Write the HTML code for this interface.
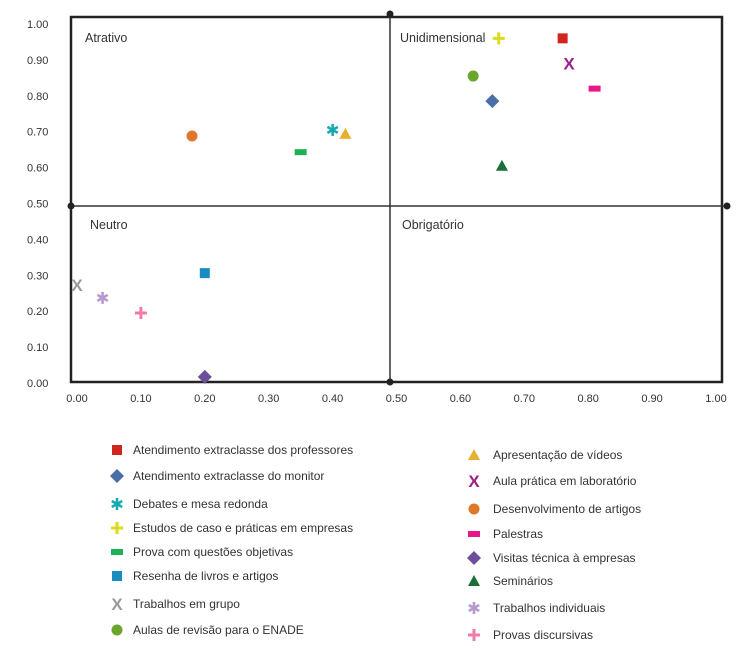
<!DOCTYPE html>
<html><head><meta charset="utf-8"><style>
body{margin:0;background:#fff;}
svg{display:block;font-family:"Liberation Sans",sans-serif;}
</style></head><body>
<svg id="chart" width="750" height="650"></svg>
<script>
const names=["Atendimento extraclasse dos professores","Atendimento extraclasse do monitor","Debates e mesa redonda","Estudos de caso e práticas em empresas","Prova com questões objetivas","Resenha de livros e artigos","Trabalhos em grupo","Aulas de revisão para o ENADE","Apresentação de vídeos","Aula prática em laboratório","Desenvolvimento de artigos","Palestras","Visitas técnica à empresas","Seminários","Trabalhos individuais","Provas discursivas"];
const xVals=[0.76,0.65,0.40,0.66,0.35,0.20,0.00,0.62,0.42,0.77,0.18,0.81,0.20,0.665,0.04,0.10];
const yVals=[0.96,0.785,0.705,0.96,0.643,0.306,0.273,0.855,0.694,0.89,0.688,0.82,0.017,0.605,0.237,0.195];
const shapes=["square","diamond","star","plus","rect","square","x","circle","tri","x","circle","rect","diamond","tri","star","plus"];
const colors=["#d0261e","#4a6fa8","#13aab0","#d8dc1c","#1db254","#1a8cc0","#999999","#6aa62c","#e8b030","#9c1f8a","#e0782a","#e8168a","#6b4f9a","#1a6e3a","#b79ad0","#f07aa8"];
const xTicks=["0.00","0.10","0.20","0.30","0.40","0.50","0.60","0.70","0.80","0.90","1.00"];
const yTicks=["0.00","0.10","0.20","0.30","0.40","0.50","0.60","0.70","0.80","0.90","1.00"];
const quadrants=["Atrativo","Unidimensional","Neutro","Obrigatório"];

const NS="http://www.w3.org/2000/svg";
const svg=document.getElementById('chart');
const X=v=>77+639*v, Y=v=>383-359*v;
function mk(t,a,p){const e=document.createElementNS(NS,t);for(const k in a)e.setAttribute(k,a[k]);(p||svg).appendChild(e);return e;}
function marker(shape,c,cx,cy,g){
  if(shape==="square")mk('rect',{x:cx-5,y:cy-5,width:10,height:10,fill:c},g);
  else if(shape==="rect")mk('rect',{x:cx-6,y:cy-3,width:12,height:6,fill:c},g);
  else if(shape==="circle")mk('circle',{cx:cx,cy:cy,r:5.5,fill:c},g);
  else if(shape==="diamond")mk('polygon',{points:`${cx},${cy-7} ${cx+7},${cy} ${cx},${cy+7} ${cx-7},${cy}`,fill:c},g);
  else if(shape==="tri")mk('polygon',{points:`${cx},${cy-6} ${cx+6},${cy+5} ${cx-6},${cy+5}`,fill:c},g);
  else if(shape==="plus"){mk('rect',{x:cx-6,y:cy-1.5,width:12,height:3,fill:c},g);mk('rect',{x:cx-1.5,y:cy-6,width:3,height:12,fill:c},g);}
  else if(shape==="x"){const t=mk('text',{x:cx,y:cy+6,'text-anchor':'middle','font-size':17,'font-weight':'bold',fill:c},g);t.textContent="X";}
  else if(shape==="star"){[0,60,120].forEach(a=>{const r=a*Math.PI/180;mk('line',{x1:cx-6*Math.sin(r),y1:cy-6*Math.cos(r),x2:cx+6*Math.sin(r),y2:cy+6*Math.cos(r),stroke:c,'stroke-width':2.6},g);});}
}
const frame=mk('rect',{x:71,y:17,width:651,height:365,fill:'none',stroke:'#222','stroke-width':2.5});

const vl=mk('line',{x1:390,y1:14,x2:390,y2:382,stroke:'#333','stroke-width':1.5});

const hl=mk('line',{x1:71,y1:206,x2:727,y2:206,stroke:'#333','stroke-width':1.5});

[[390,14],[390,382],[71,206],[727,206]].forEach(p=>{const d=mk('circle',{cx:p[0],cy:p[1],r:3.5,fill:'#222'});});
xTicks.forEach((t,i)=>{const e=mk('text',{x:X(i/10),y:402,'text-anchor':'middle','font-size':11,fill:'#333'});e.textContent=t;
});
yTicks.forEach((t,i)=>{const e=mk('text',{x:27,y:Y(i/10)+4,'font-size':11,fill:'#333'});e.textContent=t;
});
[[85,42],[400,42],[90,229],[402,229]].forEach((p,i)=>{const e=mk('text',{x:p[0],y:p[1],'font-size':12.5,fill:'#333'});e.textContent=quadrants[i];
});
names.forEach((n,i)=>{const g=mk('g',{});
marker(shapes[i],colors[i],X(xVals[i]),Y(yVals[i]),g);});
const leftY=[450,476,504,528,552,576,604,630], rightY=[455,481,509,534,558,581,608,635];
names.forEach((n,i)=>{const left=i<8;const y=left?leftY[i]:rightY[i-8];const mx=left?117:474,tx=left?133:493;
const g=mk('g',{});
marker(shapes[i],colors[i],mx,y,g);const t=mk('text',{x:tx,y:y+4,'font-size':12,fill:'#333'},g);t.textContent=n;});
</script>
</body></html>
